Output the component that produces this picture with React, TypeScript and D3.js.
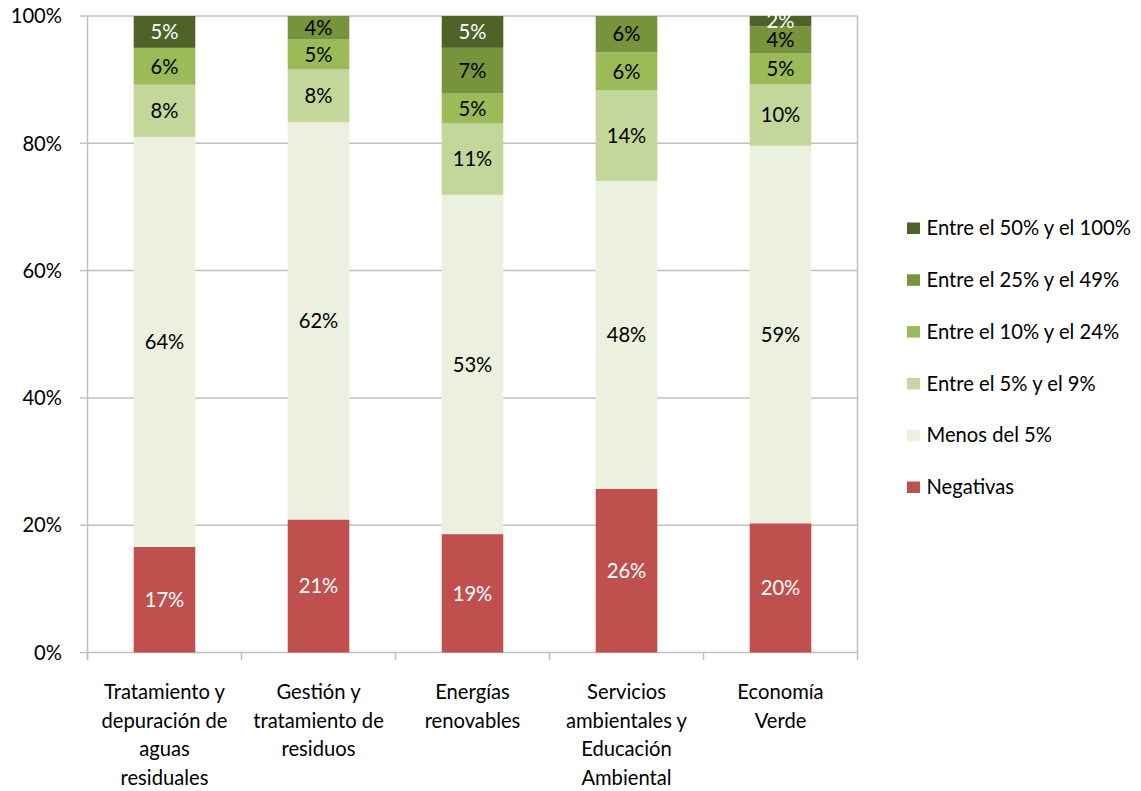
import React from "react";
import * as d3 from "d3";

// Sectors on the x axis (each entry is a wrapped label)
const categories: string[][] = [
  ["Tratamiento y", "depuración de", "aguas", "residuales"],
  ["Gestión y", "tratamiento de", "residuos"],
  ["Energías", "renovables"],
  ["Servicios", "ambientales y", "Educación", "Ambiental"],
  ["Economía", "Verde"],
];

// Share of companies (%) in each band, per sector
const negativas = [16.6, 20.9, 18.6, 25.7, 20.3];
const menos5 = [64.4, 62.4, 53.3, 48.4, 59.3];
const entre5y9 = [8.2, 8.3, 11.2, 14.2, 9.7];
const entre10y24 = [5.8, 4.7, 4.8, 6.0, 4.8];
const entre25y49 = [0, 3.7, 7.1, 5.7, 4.3];
const entre50y100 = [5.0, 0, 5.0, 0, 1.6];

const seriesNames = [
  "Negativas",
  "Menos del 5%",
  "Entre el 5% y el 9%",
  "Entre el 10% y el 24%",
  "Entre el 25% y el 49%",
  "Entre el 50% y el 100%",
];
const seriesValues = [negativas, menos5, entre5y9, entre10y24, entre25y49, entre50y100];
const seriesColors = ["#C0504D", "#EBF1DE", "#C4D79B", "#9BBB59", "#77933C", "#4F6228"];
const labelColors = ["#FFFFFF", "#000000", "#000000", "#000000", "#000000", "#FFFFFF"];

const yTicks = [0, 20, 40, 60, 80, 100];

const W = 1141;
const H = 791;
const plot = { left: 87.5, right: 857.5, top: 16, bottom: 652.5 };
const FONT = "Lato, 'Open Sans', sans-serif";
const FS = 20.2;
const GRID = "#C0C0C0";

export default function App() {
  const x = d3
    .scaleBand<number>()
    .domain(d3.range(categories.length))
    .range([plot.left, plot.right])
    .paddingInner(0.6)
    .paddingOuter(0.3);
  const band = d3.scaleBand<number>().domain(d3.range(categories.length)).range([plot.left, plot.right]);
  const y = d3.scaleLinear().domain([0, 100]).range([plot.bottom, plot.top]);

  const rows = categories.map((_, i) => {
    const r: Record<string, number> = {};
    seriesNames.forEach((n, k) => (r[n] = seriesValues[k][i]));
    return r;
  });
  const stacked = d3.stack<Record<string, number>>().keys(seriesNames)(rows);

  const boundaries = d3.range(categories.length + 1).map((i) => plot.left + i * band.bandwidth());

  const legendX = 907;
  const legendY0 = 228;
  const legendStep = 51.8;
  const legendOrder = [...seriesNames.keys()].reverse();

  return (
    <svg
      width={W}
      height={H}
      style={{ position: "absolute", left: 0, top: 0, background: "#fff" }}
      fontFamily={FONT}
    >
      {/* gridlines */}
      {yTicks.map((t) => (
        <line key={"g" + t} x1={plot.left} x2={plot.right} y1={y(t)} y2={y(t)} stroke={GRID} strokeWidth={1.5} />
      ))}
      {/* right border */}
      <line x1={plot.right} x2={plot.right} y1={plot.top} y2={plot.bottom} stroke={GRID} strokeWidth={1.5} />

      {/* bars */}
      {stacked.map((layer, k) =>
        layer.map((d, i) => {
          const h = y(d[0]) - y(d[1]);
          if (h <= 0) return null;
          return (
            <rect
              key={`r${k}-${i}`}
              x={x(i)}
              y={y(d[1])}
              width={x.bandwidth()}
              height={h}
              fill={seriesColors[k]}
            />
          );
        })
      )}

      {/* data labels */}
      {stacked.map((layer, k) =>
        layer.map((d, i) => {
          const v = seriesValues[k][i];
          if (v <= 0) return null;
          return (
            <text
              key={`l${k}-${i}`}
              x={(x(i) as number) + x.bandwidth() / 2}
              y={(y(d[0]) + y(d[1])) / 2}
              dy="0.36em"
              textAnchor="middle"
              fontSize={FS}
              fill={labelColors[k]}
            >
              {Math.round(v)}%
            </text>
          );
        })
      )}

      {/* y axis */}
      <line x1={plot.left} x2={plot.left} y1={plot.top} y2={plot.bottom + 7.5} stroke={GRID} strokeWidth={1.5} />
      {yTicks.map((t) => (
        <g key={"yt" + t}>
          <line x1={plot.left - 7.5} x2={plot.left} y1={y(t)} y2={y(t)} stroke={GRID} strokeWidth={1.5} />
          <text x={62} y={y(t)} dy="0.36em" textAnchor="end" fontSize={FS} fill="#000">
            {t}%
          </text>
        </g>
      ))}

      {/* x axis */}
      {boundaries.map((bx, i) => (
        <line key={"xt" + i} x1={bx} x2={bx} y1={plot.bottom} y2={plot.bottom + 7.5} stroke={GRID} strokeWidth={1.5} />
      ))}
      {categories.map((lines, i) => (
        <text
          key={"xl" + i}
          x={(band(i) as number) + band.bandwidth() / 2}
          y={699}
          textAnchor="middle"
          fontSize={FS}
          fill="#000"
        >
          {lines.map((ln, j) => (
            <tspan key={j} x={(band(i) as number) + band.bandwidth() / 2} dy={j === 0 ? 0 : 28.5}>
              {ln}
            </tspan>
          ))}
        </text>
      ))}

      {/* legend */}
      {legendOrder.map((k, r) => {
        const cy = legendY0 + r * legendStep;
        return (
          <g key={"lg" + k}>
            <rect x={legendX} y={cy - 5.5} width={13} height={11.5} fill={seriesColors[k]} />
            <text x={926.5} y={cy} dy="0.36em" fontSize={FS} fill="#000">
              {seriesNames[k]}
            </text>
          </g>
        );
      })}
    </svg>
  );
}
